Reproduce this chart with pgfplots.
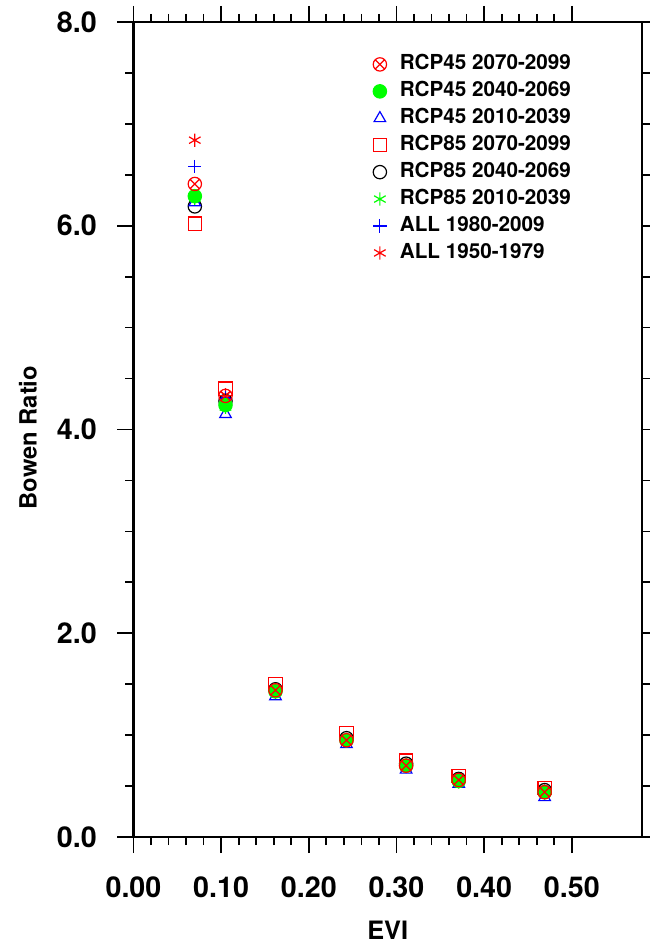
\documentclass[border=0pt]{standalone}
\usepackage{fontspec}
\setmainfont{TeX Gyre Heros}
\usepackage{pgfplots}
\pgfplotsset{compat=1.18}
\definecolor{nclred}{RGB}{255,0,0}
\definecolor{nclgreen}{RGB}{0,255,0}
\definecolor{nclblue}{RGB}{0,0,255}

\begin{document}
\begin{tikzpicture}
\begin{axis}[
  name=ax,
  scale only axis,
  width=381.4pt, height=611.3pt,
  xmin=0, xmax=0.58, ymin=0, ymax=8,
  xtick={0,0.1,0.2,0.3,0.4,0.5}, minor x tick num=4,
  ytick={0,2,4,6,8}, minor y tick num=3,
  tick align=outside,
  major tick length=12pt, minor tick length=6pt,
  axis line style={line width=1.6pt},
  every tick/.style={line width=1.3pt, black},
  scaled ticks=false,
  xticklabel style={font=\bfseries\fontsize{21.5}{24}\selectfont, anchor=center, yshift=-25.5pt,
    /pgf/number format/.cd, fixed, fixed zerofill, precision=2, assume math mode=true},
  yticklabel style={font=\bfseries\fontsize{21.5}{24}\selectfont, anchor=center, xshift=-30.5pt,
    /pgf/number format/.cd, fixed, fixed zerofill, precision=1, assume math mode=true},
  xlabel={EVI}, ylabel={Bowen Ratio},
  xlabel style={font=\bfseries\fontsize{19}{22}\selectfont, at={(axis description cs:0.5,-0.114)}, anchor=center},
  ylabel style={font=\bfseries\fontsize{17.8}{20}\selectfont, at={(axis description cs:-0.2075,0.49)}, anchor=center},
  only marks,
  mark size=5pt,
  every axis plot/.append style={line width=0.9pt},
  reverse legend,
  legend cell align=left,
  legend style={draw=none, fill=none, inner sep=0pt,
    at={(rel axis cs:0.471,0.963)}, anchor=north west,
    font=\bfseries\fontsize{15.5}{18}\selectfont,
    nodes={text height=11pt, text depth=3pt, inner sep=2pt},
    row sep=2.2pt, column sep=8pt},
]
% ALL 1950-1979
\addplot[color=nclred, mark=asterisk, mark options={draw=nclred}] coordinates {
  (0.070,6.84) (0.105,4.34) (0.162,1.45) (0.243,0.96) (0.311,0.71) (0.371,0.56) (0.469,0.45)};
% ALL 1980-2009
\addplot[color=nclblue, mark=+, mark options={draw=nclblue}] coordinates {
  (0.070,6.58) (0.105,4.31) (0.162,1.43) (0.243,0.95) (0.311,0.70) (0.371,0.55) (0.469,0.44)};
% RCP85 2010-2039
\addplot[color=nclgreen, mark=asterisk, mark options={draw=nclgreen}] coordinates {
  (0.070,6.27) (0.105,4.22) (0.162,1.42) (0.243,0.94) (0.311,0.69) (0.371,0.54) (0.469,0.43)};
% RCP85 2040-2069
\addplot[color=black, mark=o, mark options={draw=black}] coordinates {
  (0.070,6.19) (0.105,4.28) (0.162,1.45) (0.243,0.97) (0.311,0.72) (0.371,0.57) (0.469,0.46)};
% RCP85 2070-2099
\addplot[color=nclred, mark=square, mark options={draw=nclred}] coordinates {
  (0.070,6.02) (0.105,4.40) (0.162,1.50) (0.243,1.02) (0.311,0.75) (0.371,0.60) (0.469,0.48)};
% RCP45 2010-2039
\addplot[color=nclblue, mark=triangle, mark options={draw=nclblue}] coordinates {
  (0.070,6.23) (0.105,4.15) (0.162,1.38) (0.243,0.91) (0.311,0.66) (0.371,0.52) (0.469,0.39)};
% RCP45 2040-2069
\addplot[color=nclgreen, mark=*, mark options={fill=nclgreen, draw=nclgreen}] coordinates {
  (0.070,6.29) (0.105,4.24) (0.162,1.43) (0.243,0.95) (0.311,0.70) (0.371,0.55) (0.469,0.44)};
% RCP45 2070-2099
\addplot[color=nclred, mark=otimes, mark options={draw=nclred}] coordinates {
  (0.070,6.41) (0.105,4.33) (0.162,1.44) (0.243,0.95) (0.311,0.70) (0.371,0.56) (0.469,0.44)};
\legend{ALL 1950-1979, ALL 1980-2009, RCP85 2010-2039, RCP85 2040-2069,
  RCP85 2070-2099, RCP45 2010-2039, RCP45 2040-2069, RCP45 2070-2099}
\end{axis}
\pgfresetboundingbox
\path[use as bounding box] ([xshift=-100.1pt,yshift=-83.25pt]ax.south west)
  rectangle ([xshift=6pt,yshift=16.5pt]ax.north east);
\end{tikzpicture}
\end{document}
